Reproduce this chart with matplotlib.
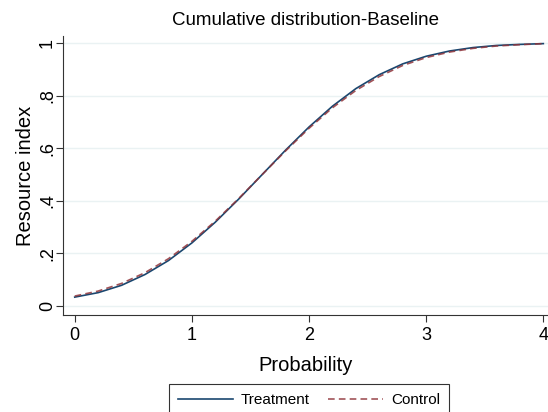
import matplotlib
matplotlib.use("Agg")
import matplotlib.pyplot as plt

plt.rcParams['font.family'] = ['Liberation Sans', 'DejaVu Sans']

# values
x = [0.0, 0.2, 0.4, 0.6, 0.8, 1.0, 1.2, 1.4, 1.6, 1.8, 2.0,
     2.2, 2.4, 2.6, 2.8, 3.0, 3.2, 3.4, 3.6, 3.8, 4.0]
treatment = [0.034, 0.051, 0.079, 0.120, 0.173, 0.240, 0.319, 0.407, 0.500, 0.593, 0.681,
             0.760, 0.827, 0.880, 0.921, 0.950, 0.970, 0.983, 0.991, 0.995, 0.998]
control = [0.038, 0.057, 0.086, 0.127, 0.180, 0.246, 0.323, 0.409, 0.500, 0.590, 0.676,
           0.754, 0.820, 0.873, 0.915, 0.945, 0.966, 0.980, 0.989, 0.994, 0.998]
yticks = [0, 0.2, 0.4, 0.6, 0.8, 1.0]
ytick_labels = ['0', '.2', '.4', '.6', '.8', '1']
xticks = [0, 1, 2, 3, 4]

fig = plt.figure(figsize=(5.48, 4.12), dpi=100)
ax = fig.add_axes([63/548, 1 - 315/412, 485/548, (315 - 36)/412])

for yv in yticks:
    ax.axhline(yv, color='#eaf2f3', lw=1.0, zorder=0)

ax.plot(x, treatment, color='#1a476f', lw=1.2, label='Treatment')
ax.plot(x, control, color='#90353b', lw=1.2, ls=(0, (4, 2.5)), label='Control', alpha=0.85)

ax.set_xlim(-0.1, 4.04)
ax.set_ylim(-0.034, 1.027)
ax.set_xticks(xticks)
ax.set_yticks(yticks)
ax.set_yticklabels(ytick_labels, rotation=90, va='center')
ax.tick_params(labelsize=13, color='#333333', length=5)
ax.tick_params(axis='y', pad=0)
for s in ['top', 'right']:
    ax.spines[s].set_visible(False)
for s in ['left', 'bottom']:
    ax.spines[s].set_color('#333333')

ax.set_title('Cumulative distribution-Baseline', fontsize=13.5, pad=8)
ax.set_xlabel('Probability', fontsize=14.5, labelpad=9)
ax.set_ylabel('Resource index', fontsize=14.5, labelpad=3)

leg = fig.legend(loc='upper center', bbox_to_anchor=(309/548, 1 - 384/412), ncol=2,
                 frameon=True, fancybox=False, fontsize=11, handlelength=3.6,
                 handletextpad=0.5, columnspacing=1.2, borderpad=0.6, borderaxespad=0)
leg.get_frame().set_edgecolor('#000000')
leg.get_frame().set_linewidth(0.8)

fig.savefig('out.png', dpi=100)
